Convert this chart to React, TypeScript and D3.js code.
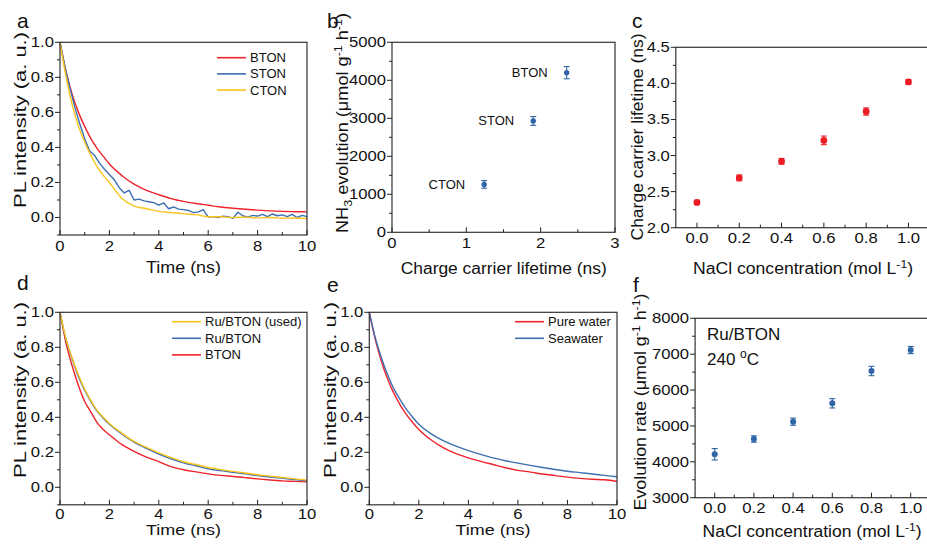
import React from 'react';
import * as d3 from 'd3';

const FONT = "'Liberation Sans', Arial, Helvetica, sans-serif";
const RED = '#f0222a';
const BLUE = '#3d6fb0';
const YELLOW = '#f8c31a';
const PT_BLUE = '#2f64a6';
const PT_RED = '#ec1c24';
const TICK_S = 1.15;

// ---------- data ----------
const tSmooth = [0, 0.25, 0.5, 0.75, 1, 1.25, 1.5, 1.75, 2, 2.5, 3, 3.5, 4, 4.5, 5, 5.5, 6, 6.5, 7, 7.5, 8, 8.5, 9, 9.5, 10];
const tNoisy = [0, 0.2, 0.4, 0.6, 0.8, 1, 1.2, 1.4, 1.6, 1.8, 2, 2.2, 2.4, 2.6, 2.8, 3, 3.2, 3.4, 3.6, 3.8, 4, 4.2, 4.4, 4.6, 4.8, 5, 5.2, 5.4, 5.6, 5.8, 6, 6.2, 6.4, 6.6, 6.8, 7, 7.2, 7.4, 7.6, 7.8, 8, 8.2, 8.4, 8.6, 8.8, 9, 9.2, 9.4, 9.6, 9.8, 10];

// panel a
const btonA = [1.0, 0.83, 0.7, 0.6, 0.52, 0.45, 0.395, 0.35, 0.305, 0.24, 0.19, 0.155, 0.13, 0.108, 0.092, 0.08, 0.07, 0.06, 0.053, 0.047, 0.042, 0.038, 0.035, 0.033, 0.032];
const stonA = [1.0, 0.86, 0.74, 0.63, 0.535, 0.45, 0.38, 0.355, 0.31, 0.275, 0.245, 0.215, 0.17, 0.14, 0.155, 0.1, 0.105, 0.095, 0.09, 0.085, 0.07, 0.083, 0.05, 0.06, 0.048, 0.045, 0.04, 0.028, 0.032, 0.045, 0.002, 0.005, 0.0, 0.008, 0.005, -0.005, 0.03, 0.01, 0.002, 0.012, 0.008, 0.018, 0.005, 0.02, 0.01, 0.015, 0.005, 0.018, 0.0, 0.012, 0.005];
const ctonA = [1.0, 0.8, 0.64, 0.52, 0.43, 0.355, 0.29, 0.24, 0.2, 0.11, 0.065, 0.05, 0.035, 0.028, 0.022, 0.016, 0.004, 0.004, 0.0, 0.002, -0.002, 0.0, -0.004, -0.003, -0.006];

// panel b
const bNames = ['CTON', 'STON', 'BTON'];
const bLifetime = [1.24, 1.9, 2.35];
const bRate = [1260, 2930, 4200];
const bErr = [100, 115, 160];

// panel c
const nacl = [0, 0.2, 0.4, 0.6, 0.8, 1.0];
const cLifetime = [2.35, 2.69, 2.92, 3.21, 3.61, 4.02];
const cErr = [0.03, 0.04, 0.04, 0.06, 0.05, 0.03];

// panel d
const btonD = [1.0, 0.82, 0.69, 0.58, 0.49, 0.43, 0.37, 0.33, 0.3, 0.245, 0.205, 0.172, 0.147, 0.118, 0.1, 0.088, 0.077, 0.068, 0.062, 0.055, 0.048, 0.042, 0.037, 0.034, 0.031];
const ruBtonD = [1.0, 0.84, 0.73, 0.63, 0.555, 0.49, 0.435, 0.395, 0.36, 0.305, 0.258, 0.222, 0.19, 0.163, 0.14, 0.123, 0.106, 0.095, 0.085, 0.077, 0.067, 0.059, 0.051, 0.044, 0.038];
const ruBtonUsedD = [1.0, 0.845, 0.735, 0.64, 0.56, 0.495, 0.44, 0.4, 0.365, 0.31, 0.262, 0.228, 0.197, 0.17, 0.146, 0.13, 0.113, 0.101, 0.091, 0.082, 0.072, 0.064, 0.056, 0.048, 0.041];

// panel e
const pureWater = [1.0, 0.84, 0.715, 0.615, 0.535, 0.47, 0.415, 0.37, 0.33, 0.27, 0.225, 0.192, 0.168, 0.148, 0.13, 0.112, 0.097, 0.087, 0.076, 0.067, 0.058, 0.051, 0.046, 0.043, 0.033];
const seawater = [1.0, 0.85, 0.735, 0.64, 0.56, 0.5, 0.445, 0.4, 0.36, 0.305, 0.265, 0.235, 0.21, 0.188, 0.168, 0.152, 0.138, 0.125, 0.113, 0.102, 0.092, 0.084, 0.076, 0.068, 0.06];

// panel f
const fRate = [4210, 4636, 5118, 5631, 6531, 7116];
const fErr = [160, 90, 100, 130, 130, 100];

// ticks
const timeMajor = [0, 2, 4, 6, 8, 10];
const timeMinor = [1, 3, 5, 7, 9];
const plMajor = [0, 0.2, 0.4, 0.6, 0.8, 1.0];
const plMinor = [-0.1, 0.1, 0.3, 0.5, 0.7, 0.9];
const naclMajor = [0, 0.2, 0.4, 0.6, 0.8, 1.0];
const naclMinor = [0.1, 0.3, 0.5, 0.7, 0.9];

// ---------- helpers ----------
type Scale = d3.ScaleLinear<number, number>;

function TickText({ x, y, anchor, children }: { x: number; y: number; anchor: string; children: any }) {
  return (
    <text transform={`translate(${x},${y}) scale(${TICK_S},1)`} textAnchor={anchor} fontSize={14.5} fontFamily={FONT} fill="#111">
      {children}
    </text>
  );
}

function Frame({ xs, ys, xMajor, xMinor, yMajor, yMinor, xFmt, yFmt, xLabelDy = 15.5 }: {
  xs: Scale; ys: Scale; xMajor: number[]; xMinor: number[]; yMajor: number[]; yMinor: number[];
  xFmt: (v: number) => string; yFmt: (v: number) => string; xLabelDy?: number;
}) {
  const [x0, x1] = xs.range();
  const [y0, y1] = ys.range();
  const st = { stroke: '#222', strokeWidth: 1 };
  return (
    <g>
      <rect x={x0} y={y1} width={x1 - x0} height={y0 - y1} fill="none" stroke="#333" strokeWidth={1.2} />
      {xMajor.map((v) => <line key={'xM' + v} x1={xs(v)} x2={xs(v)} y1={y0} y2={y0 - 5} {...st} />)}
      {xMinor.map((v) => <line key={'xm' + v} x1={xs(v)} x2={xs(v)} y1={y0} y2={y0 - 3} {...st} />)}
      {yMajor.map((v) => <line key={'yM' + v} x1={x0} x2={x0 - 5} y1={ys(v)} y2={ys(v)} {...st} />)}
      {yMinor.map((v) => <line key={'ym' + v} x1={x0} x2={x0 - 3} y1={ys(v)} y2={ys(v)} {...st} />)}
      {xMajor.map((v) => <TickText key={'xl' + v} x={xs(v)} y={y0 + xLabelDy} anchor="middle">{xFmt(v)}</TickText>)}
      {yMajor.map((v) => <TickText key={'yl' + v} x={x0 - 6} y={ys(v) + 5} anchor="end">{yFmt(v)}</TickText>)}
    </g>
  );
}

function Title({ x, y, len, rot = false, children, size = 16 }: { x: number; y: number; len: number; rot?: boolean; children: any; size?: number }) {
  return (
    <text transform={rot ? `translate(${x},${y}) rotate(-90)` : `translate(${x},${y})`} textAnchor="middle"
      textLength={len} lengthAdjust="spacingAndGlyphs" fontSize={size} fontFamily={FONT} fill="#111">
      {children}
    </text>
  );
}

function Letter({ x, y, children }: { x: number; y: number; children: any }) {
  return <text x={x} y={y} fontSize={21} fontFamily={FONT} fill="#111">{children}</text>;
}

function Curve({ t, v, xs, ys, color, curve = true }: { t: number[]; v: number[]; xs: Scale; ys: Scale; color: string; curve?: boolean }) {
  const line = d3.line<number>().x((_, i) => xs(t[i])).y((d) => ys(d));
  if (curve) line.curve(d3.curveMonotoneX);
  return <path d={line(v) || ''} fill="none" stroke={color} strokeWidth={1.4} strokeLinejoin="round" />;
}

function Legend({ x, y, items, dy }: { x: number; y: number; items: { label: string; color: string }[]; dy: number }) {
  return (
    <g>
      {items.map((it, i) => (
        <g key={it.label}>
          <line x1={x} x2={x + 29} y1={y + i * dy} y2={y + i * dy} stroke={it.color} strokeWidth={1.6} />
          <text x={x + 33} y={y + i * dy + 4.5} fontSize={13} fontFamily={FONT} fill="#111">{it.label}</text>
        </g>
      ))}
    </g>
  );
}

function ErrPoint({ x, y, yTop, yBot, color, r }: { x: number; y: number; yTop: number; yBot: number; color: string; r: number }) {
  return (
    <g>
      <line x1={x} x2={x} y1={yTop} y2={yBot} stroke={color} strokeWidth={1.1} />
      <line x1={x - 3} x2={x + 3} y1={yTop} y2={yTop} stroke={color} strokeWidth={1.1} />
      <line x1={x - 3} x2={x + 3} y1={yBot} y2={yBot} stroke={color} strokeWidth={1.1} />
      <circle cx={x} cy={y} r={r} fill={color} />
    </g>
  );
}

const f1 = d3.format('.1f');
const f0 = (v: number) => String(v);
const SUP = 11;

export default function App() {
  // scales
  const xa = d3.scaleLinear().domain([0, 10]).range([60, 307]);
  const ya = d3.scaleLinear().domain([-0.1, 1]).range([235, 42.3]);
  const xb = d3.scaleLinear().domain([0, 3]).range([392, 615]);
  const yb = d3.scaleLinear().domain([0, 5000]).range([232.3, 42.3]);
  const xc = d3.scaleLinear().domain([-0.1, 1.1]).range([675.8, 929.6]);
  const yc = d3.scaleLinear().domain([2, 4.5]).range([227.7, 47.3]);
  const xd = d3.scaleLinear().domain([0, 10]).range([60, 307]);
  const yd = d3.scaleLinear().domain([-0.1, 1]).range([504.8, 312.3]);
  const xe = d3.scaleLinear().domain([0, 10]).range([369.3, 617]);
  const ye = d3.scaleLinear().domain([-0.1, 1]).range([504.8, 312.3]);
  const xf = d3.scaleLinear().domain([-0.1, 1.1]).range([695.1, 930.3]);
  const yf = d3.scaleLinear().domain([3000, 8000]).range([497.7, 318.3]);

  return (
    <svg width={927} height={546} style={{ position: 'absolute', left: 0, top: 0, background: '#fff' }}>
      <rect x={0} y={0} width={927} height={546} fill="#fff" />

      {/* ---------- panel a ---------- */}
      <Letter x={17} y={28}>a</Letter>
      <Curve t={tSmooth} v={btonA} xs={xa} ys={ya} color={RED} />
      <Curve t={tNoisy} v={stonA} xs={xa} ys={ya} color={BLUE} curve={false} />
      <Curve t={tSmooth} v={ctonA} xs={xa} ys={ya} color={YELLOW} />
      <Frame xs={xa} ys={ya} xMajor={timeMajor} xMinor={timeMinor} yMajor={plMajor} yMinor={plMinor} xFmt={f0} yFmt={f1} />
      <Legend x={217} y={57.7} dy={16.2} items={[{ label: 'BTON', color: RED }, { label: 'STON', color: BLUE }, { label: 'CTON', color: YELLOW }]} />
      <Title x={183.5} y={273} len={75}>Time (ns)</Title>
      <Title x={26} y={120} len={176} rot>PL intensity (a. u.)</Title>

      {/* ---------- panel b ---------- */}
      <Letter x={327} y={28}>b</Letter>
      <Frame xs={xb} ys={yb} xMajor={[0, 1, 2, 3]} xMinor={[0.5, 1.5, 2.5]} yMajor={[0, 1000, 2000, 3000, 4000, 5000]}
        yMinor={[500, 1500, 2500, 3500, 4500]} xFmt={f0} yFmt={f0} />
      {bNames.map((n, i) => (
        <g key={n}>
          <ErrPoint x={xb(bLifetime[i])} y={yb(bRate[i])} yTop={yb(bRate[i] + bErr[i])} yBot={yb(bRate[i] - bErr[i])} color={PT_BLUE} r={2.7} />
          <text x={xb(bLifetime[i]) - 19} y={yb(bRate[i]) + 4.5} textAnchor="end" fontSize={13} fontFamily={FONT} fill="#111">{n}</text>
        </g>
      ))}
      <Title x={503.7} y={274} len={206}>Charge carrier lifetime (ns)</Title>
      <Title x={348} y={123} len={220} rot>
        NH<tspan dy={4} fontSize={SUP}>3</tspan>
        <tspan dy={-4}> evolution (μmol g</tspan>
        <tspan dy={-6} fontSize={SUP}>-1</tspan>
        <tspan dy={6}> h</tspan>
        <tspan dy={-6} fontSize={SUP}>-1</tspan>
        <tspan dy={6}>)</tspan>
      </Title>

      {/* ---------- panel c ---------- */}
      <Letter x={632} y={28}>c</Letter>
      <Frame xs={xc} ys={yc} xMajor={naclMajor} xMinor={naclMinor} yMajor={[2, 2.5, 3, 3.5, 4, 4.5]}
        yMinor={[2.25, 2.75, 3.25, 3.75, 4.25]} xFmt={f1} yFmt={f1} />
      {nacl.map((c, i) => (
        <ErrPoint key={c} x={xc(c)} y={yc(cLifetime[i])} yTop={yc(cLifetime[i] + cErr[i])} yBot={yc(cLifetime[i] - cErr[i])} color={PT_RED} r={3.4} />
      ))}
      <Title x={803} y={274} len={220}>
        NaCl concentration (mol L<tspan dy={-6} fontSize={SUP}>-1</tspan><tspan dy={6}>)</tspan>
      </Title>
      <Title x={643} y={137} len={207} rot>Charge carrier lifetime (ns)</Title>

      {/* ---------- panel d ---------- */}
      <Letter x={17} y={290}>d</Letter>
      <Curve t={tSmooth} v={btonD} xs={xd} ys={yd} color={RED} />
      <Curve t={tSmooth} v={ruBtonD} xs={xd} ys={yd} color={BLUE} />
      <Curve t={tSmooth} v={ruBtonUsedD} xs={xd} ys={yd} color={YELLOW} />
      <Frame xs={xd} ys={yd} xMajor={timeMajor} xMinor={timeMinor} yMajor={plMajor} yMinor={plMinor} xFmt={f0} yFmt={f1} xLabelDy={14} />
      <Legend x={172} y={321.7} dy={16.6} items={[{ label: 'Ru/BTON (used)', color: YELLOW }, { label: 'Ru/BTON', color: BLUE }, { label: 'BTON', color: RED }]} />
      <Title x={183.5} y={535} len={75} size={15.5}>Time (ns)</Title>
      <Title x={26} y={390} len={176} rot>PL intensity (a. u.)</Title>

      {/* ---------- panel e ---------- */}
      <Letter x={327} y={292}>e</Letter>
      <Curve t={tSmooth} v={pureWater} xs={xe} ys={ye} color={RED} />
      <Curve t={tSmooth} v={seawater} xs={xe} ys={ye} color={BLUE} />
      <Frame xs={xe} ys={ye} xMajor={timeMajor} xMinor={timeMinor} yMajor={plMajor} yMinor={plMinor} xFmt={f0} yFmt={f1} xLabelDy={14} />
      <Legend x={515} y={321.7} dy={16.6} items={[{ label: 'Pure water', color: RED }, { label: 'Seawater', color: BLUE }]} />
      <Title x={493} y={535} len={75} size={15.5}>Time (ns)</Title>
      <Title x={336} y={390} len={176} rot>PL intensity (a. u.)</Title>

      {/* ---------- panel f ---------- */}
      <Letter x={633} y={292}>f</Letter>
      <Frame xs={xf} ys={yf} xMajor={naclMajor} xMinor={naclMinor} yMajor={[3000, 4000, 5000, 6000, 7000, 8000]}
        yMinor={[3500, 4500, 5500, 6500, 7500]} xFmt={f1} yFmt={f0} />
      {nacl.map((c, i) => (
        <ErrPoint key={c} x={xf(c)} y={yf(fRate[i])} yTop={yf(fRate[i] + fErr[i])} yBot={yf(fRate[i] - fErr[i])} color={PT_BLUE} r={3} />
      ))}
      <text x={707} y={340} fontSize={17} fontFamily={FONT} fill="#111">Ru/BTON</text>
      <text x={707} y={365} fontSize={17} fontFamily={FONT} fill="#111">
        240 <tspan dy={-7} fontSize={12}>o</tspan><tspan dy={7}>C</tspan>
      </text>
      <Title x={812} y={537} len={219}>
        NaCl concentration (mol L<tspan dy={-6} fontSize={SUP}>-1</tspan><tspan dy={6}>)</tspan>
      </Title>
      <Title x={646} y={402} len={217} rot>
        Evolution rate (μmol g<tspan dy={-6} fontSize={SUP}>-1</tspan>
        <tspan dy={6}> h</tspan>
        <tspan dy={-6} fontSize={SUP}>-1</tspan>
        <tspan dy={6}>)</tspan>
      </Title>
    </svg>
  );
}
